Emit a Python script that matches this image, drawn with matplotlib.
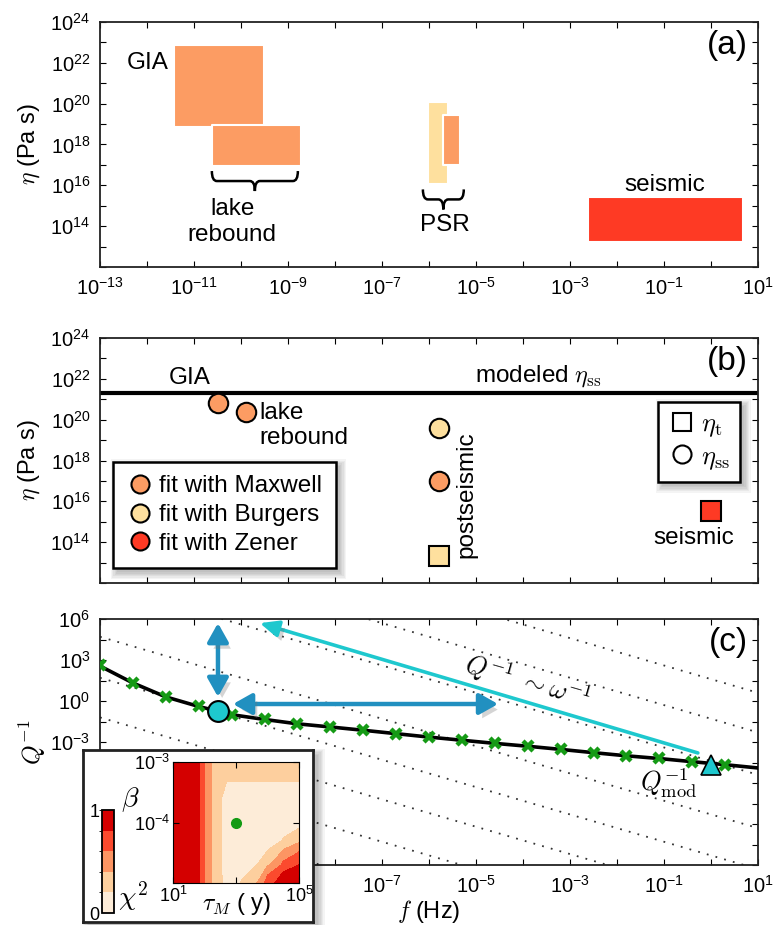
import numpy as np
import matplotlib
matplotlib.use('Agg')
import matplotlib.pyplot as plt
from matplotlib.patches import Rectangle, PathPatch
from matplotlib.path import Path
from matplotlib.lines import Line2D
from matplotlib.colors import ListedColormap, BoundaryNorm
from matplotlib.ticker import NullLocator
import matplotlib.transforms as mtrans
import matplotlib.patheffects as pe

plt.rcParams['font.family'] = ['Liberation Sans', 'DejaVu Sans']
plt.rcParams['mathtext.fontset'] = 'cm'
plt.rcParams['font.size'] = 14

ORANGE = '#FC9C63'
YELLOW = '#FEE09E'
RED = '#FE3A24'
CYAN = '#1EC8CE'
BLUE = '#2190C0'
FS = 17.5

# ---- panel (a): ranges of f (Hz) and eta (Pa s), log10 values
box_names = ['GIA', 'lake rebound', 'PSR Burgers', 'PSR Maxwell', 'seismic']
box_f_lo = [-11.43, -10.62, -6.02, -5.70, -2.62]
box_f_hi = [-9.51, -8.72, -5.60, -5.34, 0.68]
box_eta_lo = [18.85, 16.94, 16.06, 17.0, 13.22]
box_eta_hi = [22.87, 18.95, 20.08, 19.44, 15.42]
box_colors = [ORANGE, ORANGE, YELLOW, ORANGE, RED]

# ---- panel (b): fitted viscosities, log10 values
pt_f = [-10.49, -9.89, -5.79, -5.79, -5.79, 0.0]
pt_eta = [20.8, 20.37, 19.59, 17.0, 13.31, 15.52]
pt_marker = ['o', 'o', 'o', 'o', 's', 's']
pt_color = [ORANGE, ORANGE, YELLOW, ORANGE, YELLOW, RED]
eta_ss_model = 21.3

# ---- panel (c): attenuation, log10 values
f_data = [-13.0, -12.3, -11.6, -10.9, -10.2, -9.5, -8.8, -8.1, -7.4, -6.7,
          -6.0, -5.3, -4.6, -3.9, -3.2, -2.5, -1.8, -1.1, -0.4, 0.3]
q_data = [2.63, 1.34, 0.32, -0.36, -1.02, -1.34, -1.68, -1.88, -2.12, -2.38,
          -2.66, -2.85, -3.10, -3.29, -3.54, -3.78, -4.02, -4.19, -4.44, -4.68]
f_model = [-13.0, -12.3, -11.6, -10.9, -10.2, -9.5, -8.8, -8.1, -7.4, -6.7,
           -6.0, -5.3, -4.6, -3.9, -3.2, -2.5, -1.8, -1.1, -0.4, 0.3, 1.0]
q_model = [2.56, 1.32, 0.30, -0.40, -1.00, -1.35, -1.67, -1.90, -2.14, -2.39,
           -2.64, -2.87, -3.10, -3.31, -3.54, -3.78, -4.01, -4.21, -4.44, -4.66, -4.90]
# dotted Q^-1 ~ 1/omega guides: log10 Q^-1 at f = 1e-13 and at f = 1e1
guide_left = [-7.3, -4.3, -1.2, 1.7, 4.7, 8.6, 11.7, 14.6]
guide_right = [-21.3, -18.3, -15.2, -12.3, -9.3, -5.4, -2.3, 0.6]
gia_point = (-10.49, -0.73)
seis_point = (0.0, -4.68)

# ---- inset: chi^2 misfit over tau_M (y) and beta
tau_log = [1.0, 1.8, 1.9, 2.1, 2.3, 2.7, 3.2, 4.0, 4.5, 5.0]
beta_log = [-5.0, -4.7, -4.5, -4.3, -4.0, -3.6, -3.3, -3.0]
chi2_wall = [1.0, 0.9, 0.7, 0.5, 0.3, 0.1, 0.03, 0.0, 0.0, 0.0]
chi2_corner = [
    [0, 0, 0, 0, 0.05, 0.12, 0.22, 0.72, 0.97, 1.0],
    [0, 0, 0, 0, 0.02, 0.05, 0.10, 0.38, 0.65, 0.8],
    [0, 0, 0, 0, 0.00, 0.03, 0.05, 0.22, 0.45, 0.62],
    [0, 0, 0, 0, 0.00, 0.02, 0.03, 0.10, 0.22, 0.35],
    [0, 0, 0, 0, 0.00, 0.02, 0.02, 0.03, 0.06, 0.10],
    [0.1, 0.1, 0.1, 0.1, 0.1, 0.1, 0.08, 0.08, 0.08, 0.09],
    [0.21] * 10,
    [0.32] * 10,
]
best_fit = (3.0, -4.0)
chi2_colors = ['#FDECD8', '#FDCF9E', '#FC9563', '#FB4A2E', '#D40000']


def tex10(e):
    return r'$\mathdefault{10^{%d}}$' % e


def setup(ax, ylo, yhi, xfrom=-13, xlabels=True):
    ax.set_xscale('log')
    ax.set_yscale('log')
    ax.set_xlim(1e-13, 1e1)
    ax.set_ylim(10.0 ** ylo, 10.0 ** yhi)
    xe = np.arange(-13, 2)
    ax.set_xticks(10.0 ** xe, [tex10(e) if (e + 13) % 2 == 0 and xlabels and e >= xfrom else ''
                               for e in xe])
    ax.xaxis.set_minor_locator(NullLocator())
    ax.yaxis.set_minor_locator(NullLocator())
    ax.tick_params(which='both', direction='in', top=True, right=True,
                   length=4.5, width=0.8, labelsize=14.5, pad=7)
    for s in ax.spines.values():
        s.set_linewidth(1.3)
        s.set_color('#222222')


def brace(ax, x1, x2, y, hx=5, hy=10):
    X1, Y = ax.transData.transform((x1, y))
    X2 = ax.transData.transform((x2, y))[0]
    Xm = (X1 + X2) / 2
    verts = [(X1, Y), (X1, Y - hy), (X1 + hx, Y - hy), (Xm - hx, Y - hy),
             (Xm, Y - hy), (Xm, Y - 2 * hy), (Xm, Y - hy), (Xm + hx, Y - hy),
             (X2 - hx, Y - hy), (X2, Y - hy), (X2, Y)]
    codes = [Path.MOVETO, Path.CURVE3, Path.CURVE3, Path.LINETO,
             Path.CURVE3, Path.CURVE3, Path.CURVE3, Path.CURVE3,
             Path.LINETO, Path.CURVE3, Path.CURVE3]
    ax.add_patch(PathPatch(Path(verts, codes), fc='none', ec='k', lw=1.8,
                           transform=mtrans.IdentityTransform(), clip_on=False))


def soft_shadow(target, bb, z, dx=4, dy=-4):
    for i in range(6):
        g = 1.3 * i
        r = Rectangle((bb.x0 + dx - g, bb.y0 + dy - g), bb.width + 2 * g, bb.height + 2 * g,
                      fc='k', alpha=0.045, lw=0, zorder=z,
                      transform=mtrans.IdentityTransform())
        if hasattr(target, 'add_patch'):
            target.add_patch(r)
        else:
            target.add_artist(r)


fig = plt.figure(figsize=(7.76, 9.25), dpi=100)
W, H = 776.0, 925.0


def px_axes(x0, y0, x1, y1, **kw):
    return fig.add_axes([x0 / W, 1 - y1 / H, (x1 - x0) / W, (y1 - y0) / H], **kw)


ax_a = px_axes(100, 22, 758, 267)
ax_b = px_axes(100, 338, 758, 583)
ax_c = px_axes(100, 619, 758, 865)

# ---------------- (a)
setup(ax_a, 12, 24)
ye = np.arange(12, 25)
ax_a.set_yticks(10.0 ** ye, [tex10(e) if e % 2 == 0 and e > 12 else '' for e in ye])
for i in range(len(box_names)):
    ax_a.fill_between([10 ** box_f_lo[i], 10 ** box_f_hi[i]], 10 ** box_eta_lo[i],
                      10 ** box_eta_hi[i], facecolor=box_colors[i], edgecolor='white',
                      lw=1.5, zorder=2 + i)
ax_a.text(10 ** -11.98, 10 ** 22.0, 'GIA', ha='center', va='center', fontsize=FS)
ax_a.text(10 ** -10.19, 10 ** 14.2, 'lake\nrebound', ha='center', va='center',
          fontsize=FS, linespacing=1.25)
ax_a.text(10 ** -5.66, 10 ** 14.05, 'PSR', ha='center', va='center', fontsize=FS)
ax_a.text(10 ** -0.98, 10 ** 16.0, 'seismic', ha='center', va='center', fontsize=FS)
ax_a.text(0.985, 0.905, '(a)', transform=ax_a.transAxes, ha='right', va='center', fontsize=24)
ax_a.set_ylabel(r'$\eta$ (Pa s)', fontsize=17, labelpad=6)
brace(ax_a, 10 ** -10.62, 10 ** -8.79, 10 ** 16.7)
brace(ax_a, 10 ** -6.13, 10 ** -5.26, 10 ** 15.8)

# ---------------- (b)
setup(ax_b, 12, 24, xlabels=False)
ax_b.set_yticks(10.0 ** ye, [tex10(e) if e % 2 == 0 and e > 12 else '' for e in ye])
ax_b.axhline(10 ** eta_ss_model, color='k', lw=3, zorder=2)
for i in range(len(pt_f)):
    ax_b.plot(10 ** pt_f[i], 10 ** pt_eta[i], marker=pt_marker[i], ms=14, mfc=pt_color[i],
              mec='k', mew=1.5, ls='none', zorder=4)
ax_b.text(10 ** -11.09, 10 ** 22.05, 'GIA', ha='center', va='center', fontsize=FS)
ax_b.text(10 ** -3.68, 10 ** 22.15, r'modeled $\eta_{\rm ss}$', ha='center', va='center',
          fontsize=FS)
ax_b.text(10 ** -9.6, 10 ** 19.7, 'lake\nrebound', ha='left', va='center', fontsize=FS,
          linespacing=1.2)
ax_b.text(10 ** -5.2, 10 ** 16.35, 'postseismic', ha='center', va='center', rotation=90,
          fontsize=FS)
ax_b.text(10 ** -0.36, 10 ** 14.2, 'seismic', ha='center', va='center', fontsize=FS)
ax_b.text(0.985, 0.905, '(b)', transform=ax_b.transAxes, ha='right', va='center', fontsize=24)
ax_b.set_ylabel(r'$\eta$ (Pa s)', fontsize=17, labelpad=6)

h_fit = [Line2D([], [], marker='o', ls='none', ms=13, mfc=c, mec='k', mew=1.5)
         for c in [ORANGE, YELLOW, RED]]
leg1 = ax_b.legend(h_fit, ['fit with Maxwell', 'fit with Burgers', 'fit with Zener'],
                   loc='lower left', bbox_to_anchor=(0.02, 0.06), borderaxespad=0,
                   fancybox=False, framealpha=1, fontsize=FS, handletextpad=0.25,
                   labelspacing=0.28, borderpad=0.55, handlelength=1.1)
leg1.get_frame().set_edgecolor('k')
leg1.get_frame().set_linewidth(1.8)
ax_b.add_artist(leg1)
h_type = [Line2D([], [], marker=m, ls='none', ms=13, mfc='w', mec='k', mew=1.5)
          for m in ['s', 'o']]
leg2 = ax_b.legend(h_type, [r'$\eta_{\rm t}$', r'$\eta_{\rm ss}$'], loc='upper right',
                   bbox_to_anchor=(0.973, 0.739), borderaxespad=0, fancybox=False,
                   framealpha=1, fontsize=19, handletextpad=0.2, labelspacing=0.2,
                   borderpad=0.4, handlelength=1.0)
leg2.get_frame().set_edgecolor('k')
leg2.get_frame().set_linewidth(1.8)

# ---------------- (c)
setup(ax_c, -12, 6, xfrom=-7)
yc = np.arange(-12, 6.1, 1.5)
ax_c.set_yticks(10.0 ** yc, [tex10(int(e)) if e % 3 == 0 and e >= -3 else '' for e in yc])
for i in range(len(guide_left)):
    ax_c.plot([1e-13, 1e1], [10 ** guide_left[i], 10 ** guide_right[i]], color='#333333',
              lw=1.3, ls=(0, (1, 4)), zorder=1)
ax_c.plot(10.0 ** np.array(f_model), 10.0 ** np.array(q_model), color='k', lw=2.6, zorder=3)
ax_c.plot(10.0 ** np.array(f_data), 10.0 ** np.array(q_data), ls='none', marker='x', ms=7.5,
          mew=3.2, color='#159a15', zorder=4)
ax_c.plot(10 ** gia_point[0], 10 ** gia_point[1], marker='o', ms=15, mfc=CYAN, mec='k',
          mew=1.5, zorder=6)
ax_c.plot(10 ** seis_point[0], 10 ** seis_point[1], marker='^', ms=15, mfc=CYAN, mec='k',
          mew=1.2, zorder=6)
shadow = [pe.SimplePatchShadow(offset=(3, -4), shadow_rgbFace='0.45', alpha=0.3), pe.Normal()]
a1 = ax_c.annotate('', xy=(10 ** -10.49, 10 ** 5.7), xytext=(10 ** -10.49, 10 ** 0.3),
                   arrowprops=dict(arrowstyle='<|-|>,head_length=0.8,head_width=0.45',
                                   color=BLUE, lw=3.2, shrinkA=0, shrinkB=0), zorder=5)
a2 = ax_c.annotate('', xy=(10 ** -4.53, 10 ** -0.22), xytext=(10 ** -10.17, 10 ** -0.22),
                   arrowprops=dict(arrowstyle='<|-|>,head_length=0.8,head_width=0.45',
                                   color=BLUE, lw=3.2, shrinkA=0, shrinkB=0), zorder=5)
a3 = ax_c.annotate('', xy=(10 ** -9.6, 10 ** 5.7), xytext=(10 ** -0.28, 10 ** -3.8),
                   arrowprops=dict(arrowstyle='-|>,head_length=0.8,head_width=0.35',
                                   color=CYAN, lw=2.6, shrinkA=0, shrinkB=0), zorder=5)
for a in (a1, a2, a3):
    a.arrow_patch.set_path_effects(shadow)
ax_c.text(10 ** -3.91, 10 ** 1.45, r'$Q^{-1}\ \sim\omega^{-1}$', rotation=-16, ha='center',
          va='center', fontsize=19)
ax_c.text(10 ** -0.91, 10 ** -6.0, r'$Q^{-1}_{\rm mod}$', ha='center', va='center', fontsize=19)
ax_c.text(0.985, 0.905, '(c)', transform=ax_c.transAxes, ha='right', va='center', fontsize=24)
ax_c.set_ylabel(r'$Q^{-1}$', fontsize=18, labelpad=2)
ax_c.set_xlabel(r'$f$ (Hz)', fontsize=17, labelpad=1)

# ---------------- inset
ax_box = px_axes(83, 750, 313, 922, zorder=10)
ax_box.set_xticks([])
ax_box.set_yticks([])
for s in ax_box.spines.values():
    s.set_linewidth(2)
    s.set_color('#222222')
ax_ct = px_axes(173, 762, 299, 883, zorder=11)
ax_cb = px_axes(102, 810, 114, 913, zorder=11)
chi2 = np.maximum(np.array(chi2_wall)[None, :], np.array(chi2_corner))
cmap = ListedColormap(chi2_colors)
levels = [0, 0.2, 0.4, 0.6, 0.8, 1.0001]
norm = BoundaryNorm(levels, cmap.N)
cf = ax_ct.contourf(10.0 ** np.array(tau_log), 10.0 ** np.array(beta_log), chi2,
                    levels=levels, cmap=cmap, norm=norm)
ax_ct.plot(10 ** best_fit[0], 10 ** best_fit[1], 'o', color='#139a13', ms=7)
ax_ct.set_xscale('log')
ax_ct.set_yscale('log')
ax_ct.set_xlim(1e1, 1e5)
ax_ct.set_ylim(1e-5, 1e-3)
ax_ct.set_xticks([1e1, 1e3, 1e5], [tex10(1), '', tex10(5)])
ax_ct.set_yticks([1e-5, 1e-4, 1e-3], ['', tex10(-4), tex10(-3)])
ax_ct.xaxis.set_minor_locator(NullLocator())
ax_ct.yaxis.set_minor_locator(NullLocator())
ax_ct.tick_params(direction='in', top=True, right=True, length=4, labelsize=13, pad=2)
cb = fig.colorbar(cf, cax=ax_cb, ticks=[0, 1])
ax_cb.yaxis.set_ticks_position('left')
ax_cb.set_yticklabels(['0', '1'])
ax_cb.tick_params(length=0, labelsize=13, pad=2)
cb.outline.set_linewidth(1.3)
fig.text(237 / W, 1 - 904 / H, r'$\tau_M$ ( y)', ha='center', va='center', fontsize=17, zorder=12)
fig.text(130 / W, 1 - 800 / H, r'$\beta$', ha='center', va='center', fontsize=20, zorder=12)
fig.text(133 / W, 1 - 896 / H, r'$\chi^2$', ha='center', va='center', fontsize=20, zorder=12)

# shadows behind legends and inset box
fig.canvas.draw()
r = fig.canvas.get_renderer()
soft_shadow(ax_b, leg1.get_frame().get_window_extent(r), 4.5)
soft_shadow(ax_b, leg2.get_frame().get_window_extent(r), 4.5)
soft_shadow(fig, ax_box.get_window_extent(r), 9.5, dx=5, dy=-5)

fig.savefig('out.png', dpi=100)
